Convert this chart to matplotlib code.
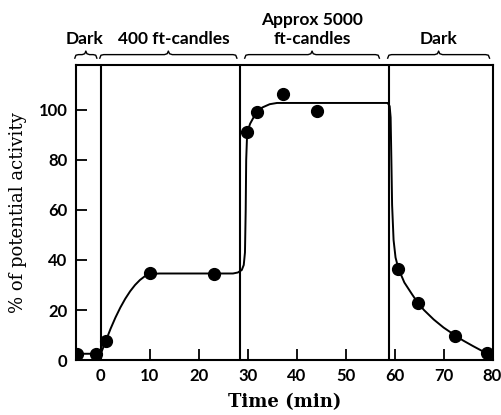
import numpy as np
import matplotlib.pyplot as plt
from matplotlib.transforms import blended_transform_factory

# measured activity (% of potential) against time
tiempo = [-4.8, -0.9, 1.0, 10.0, 23.1, 29.9, 32.0, 37.3, 44.1, 60.8, 64.7, 72.4, 78.8]
actividad = [2.5, 2.5, 7.5, 34.6, 34.4, 91.0, 99.0, 106.5, 99.5, 36.5, 22.8, 9.8, 2.8]

# hand-drawn trend curve through the measurements
curva_t = [-4.8, -0.5, 0.2, 0.6, 1.0, 2, 3, 4, 5, 6, 7, 8, 9, 10, 12, 27, 28, 28.8,
           29.2, 29.45, 29.6, 29.7, 29.9, 30.5, 31.2, 32, 33, 34.5, 36, 58.6, 59.0,
           59.2, 59.35, 59.5, 59.8, 60.2, 60.8, 62, 63.5, 64.7, 66, 68, 70, 72.4, 74, 76, 78, 79]
curva_y = [2.5, 2.5, 3.5, 5.5, 7.5, 12.5, 17, 21, 24.5, 27.5, 30, 32, 33.5, 34.4, 34.6,
           34.6, 35, 36, 38, 43, 60, 80, 91, 94.5, 97, 99, 101, 102.3, 102.8, 102.8, 101.5,
           97, 80, 62, 48, 41, 36.5, 31, 26.5, 23, 20, 16.2, 13, 9.8, 7.8, 5.6, 3.5, 2.7]

# changes of illumination
cambios = [0, 28.5, 58.8]

# light periods shown above the plot
periodos = [(-5.3, -0.8, 'Dark'), (-0.2, 27.8, '400 ft-candles'),
            (29.4, 56.9, 'Approx 5000\nft-candles'), (58.6, 79.4, 'Dark')]
desplaza = [-0.3, 1.2, 0, 0]

fig = plt.figure(figsize=(5.02, 4.15), dpi=100)
ax = fig.add_axes([0.151, 0.1325, 0.831, 0.711])

ax.plot(curva_t, curva_y, color='black', lw=1.4)
ax.plot(tiempo, actividad, 'o', color='black', ms=8.5)
for c in cambios:
    ax.axvline(c, color='black', lw=1.5)

ax.set_xlim(-5.1, 80.1)
ax.set_ylim(0, 118)
ax.set_xticks(range(0, 81, 10))
ax.set_yticks(range(0, 101, 20))
ax.tick_params(direction='in', length=8, width=1.3, labelsize=12, pad=6)
for lab in ax.get_xticklabels() + ax.get_yticklabels():
    lab.set_fontfamily('Lato')
    lab.set_fontweight('bold')
for s in ax.spines.values():
    s.set_linewidth(1.5)

ax.set_xlabel('Time (min)', family='DejaVu Serif', fontsize=13, fontweight='bold', labelpad=6)
ax.set_ylabel('% of potential activity', family='DejaVu Serif', fontsize=13, labelpad=8)

# curly braces over each period
trans = blended_transform_factory(ax.transData, ax.transAxes)
y0 = 1.035
for (a, b, texto), dx in zip(periodos, desplaza):
    m = (a + b) / 2
    w = min(0.8, (b - a) / 6)
    bx = [a, a + w * 0.3, a + w, m - w, m - w * 0.3, m, m + w * 0.3, m + w, b - w, b - w * 0.3, b]
    by = [y0 - 0.012, y0 - 0.002, y0, y0, y0 + 0.003, y0 + 0.012, y0 + 0.003, y0, y0, y0 - 0.002, y0 - 0.012]
    ax.plot(bx, by, color='black', lw=1.0, transform=trans, clip_on=False)
    ax.text(m + dx, y0 + 0.025, texto, transform=trans, ha='center', va='bottom',
            family='Lato', fontweight='bold', fontsize=12.5, linespacing=1.25)

plt.savefig('out.png', dpi=100)
